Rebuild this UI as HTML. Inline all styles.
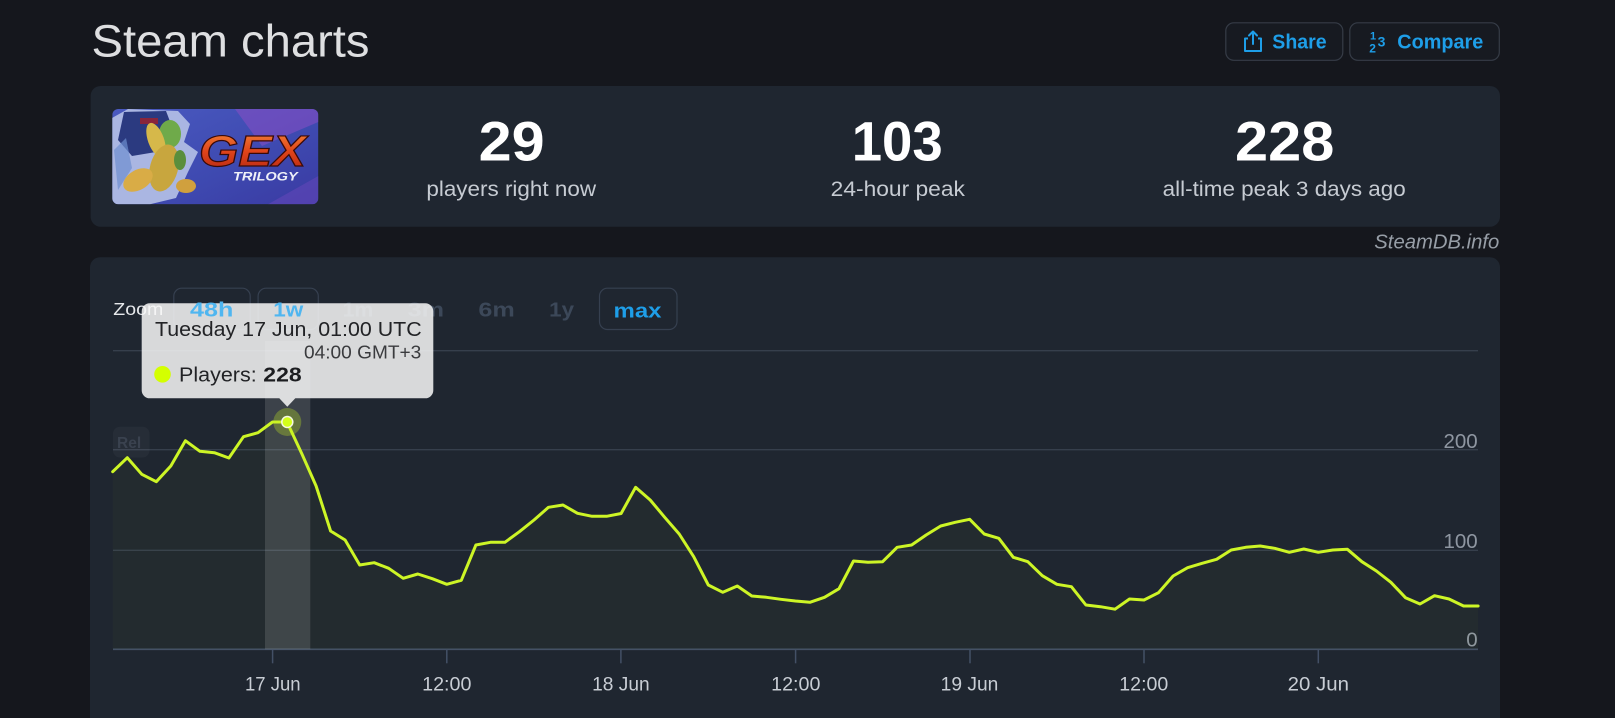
<!DOCTYPE html>
<html>
<head>
<meta charset="utf-8">
<style>
  html,body{margin:0;padding:0;background:#15171d;}
  body{width:1615px;height:718px;overflow:hidden;font-family:"Liberation Sans",sans-serif;}
  svg{display:block;}
  text{font-family:"Liberation Sans",sans-serif;}
</style>
</head>
<body>
<svg width="1615" height="718" viewBox="0 0 1615 718" xmlns="http://www.w3.org/2000/svg">
  <defs>
    <clipPath id="imgclip"><rect x="112.3" y="109" width="206" height="95.3" rx="6"/></clipPath>
    <linearGradient id="imgbg" x1="0" y1="0" x2="1" y2="1">
      <stop offset="0" stop-color="#4a5ac0"/>
      <stop offset="0.6" stop-color="#3e49b0"/>
      <stop offset="1" stop-color="#3a3aa2"/>
    </linearGradient>
    <linearGradient id="gexgrad" x1="0" y1="0" x2="0" y2="1">
      <stop offset="0" stop-color="#f58a3a"/>
      <stop offset="0.5" stop-color="#e0441a"/>
      <stop offset="1" stop-color="#b02412"/>
    </linearGradient>
  </defs>

  <rect x="0" y="0" width="1615" height="718" fill="#15171d"/>

  <text x="91.5" y="56.7" font-size="45" fill="#dedfe1" textLength="278" lengthAdjust="spacingAndGlyphs">Steam charts</text>

  <!-- Share button -->
  <rect x="1225.8" y="22.8" width="117" height="37.5" rx="8" fill="#171a21" stroke="#363c47" stroke-width="1.2"/>
  <path d="M1248,38.5 h-3 v12.5 h16 v-12.5 h-3" fill="none" stroke="#1e9ee8" stroke-width="2" stroke-linejoin="round"/>
  <path d="M1253,44 V31.5 M1249,35.5 l4,-4 l4,4" fill="none" stroke="#1e9ee8" stroke-width="2" stroke-linecap="round" stroke-linejoin="round"/>
  <text x="1272.3" y="48.7" font-size="20" font-weight="700" fill="#1e9ee8" textLength="54.3" lengthAdjust="spacingAndGlyphs">Share</text>

  <!-- Compare button -->
  <rect x="1349.8" y="22.8" width="149.5" height="37.5" rx="8" fill="#171a21" stroke="#363c47" stroke-width="1.2"/>
  <text x="1370" y="39.5" font-size="11" font-weight="700" fill="#1e9ee8">1</text>
  <text x="1369.2" y="52.5" font-size="12" font-weight="700" fill="#1e9ee8">2</text>
  <text x="1377.6" y="46.6" font-size="14" font-weight="700" fill="#1e9ee8">3</text>
  <text x="1397.3" y="48.7" font-size="20" font-weight="700" fill="#1e9ee8" textLength="86" lengthAdjust="spacingAndGlyphs">Compare</text>

  <!-- Stats card -->
  <rect x="90.6" y="86" width="1409.4" height="140.7" rx="10" fill="#1f2630"/>

  <!-- Game image -->
  <g clip-path="url(#imgclip)">
    <rect x="112.3" y="109" width="206" height="95.3" fill="url(#imgbg)"/>
    <polygon points="235,109 318.3,109 318.3,122 262,146" fill="#8a4fc4" opacity="0.55"/>
    <polygon points="268,204.3 318.3,176 318.3,204.3" fill="#6a48bc" opacity="0.5"/>
    <polygon points="112,118 128,109 178,111 190,124 184,142 198,152 188,172 176,198 150,204.3 112,204.3" fill="#aab6e2"/>
    <polygon points="124,112 166,111 174,132 168,150 132,156 118,140" fill="#2b3a80"/>
    <rect x="140" y="118" width="18" height="6" fill="#a0222a" opacity="0.8"/>
    <polygon points="114,150 126,138 132,168 118,190" fill="#6d8fd0" opacity="0.7"/>
    <ellipse cx="170" cy="134" rx="11" ry="14" fill="#6faa4a"/>
    <ellipse cx="156" cy="140" rx="8" ry="18" fill="#d6b84a" transform="rotate(-20 156 140)"/>
    <ellipse cx="164" cy="168" rx="14" ry="24" fill="#c8a63e" transform="rotate(15 164 168)"/>
    <ellipse cx="138" cy="180" rx="16" ry="10" fill="#d9ac46" transform="rotate(-30 138 180)"/>
    <ellipse cx="186" cy="186" rx="10" ry="7" fill="#d0a03e"/>
    <ellipse cx="180" cy="160" rx="6" ry="10" fill="#5a8e3c"/>
    <text x="199" y="166" font-family="Liberation Serif, serif" font-size="44" font-weight="700" font-style="italic" fill="url(#gexgrad)" stroke="#3a0a08" stroke-width="1.2" textLength="107" lengthAdjust="spacingAndGlyphs">GEX</text>
    <text x="233" y="180.5" font-size="12" font-weight="700" font-style="italic" fill="#eef0f8" textLength="64.7" lengthAdjust="spacingAndGlyphs">TRILOGY</text>
  </g>

  <!-- Stats -->
  <text x="511.6" y="160.3" font-size="56" font-weight="700" fill="#ffffff" text-anchor="middle" textLength="66" lengthAdjust="spacingAndGlyphs">29</text>
  <text x="511.2" y="196" font-size="21" fill="#c6cbd2" text-anchor="middle" textLength="169.7" lengthAdjust="spacingAndGlyphs">players right now</text>

  <text x="897.2" y="160.5" font-size="56" font-weight="700" fill="#ffffff" text-anchor="middle" textLength="91" lengthAdjust="spacingAndGlyphs">103</text>
  <text x="897.8" y="196" font-size="21" fill="#c6cbd2" text-anchor="middle" textLength="134.3" lengthAdjust="spacingAndGlyphs">24-hour peak</text>

  <text x="1284.7" y="160.5" font-size="56" font-weight="700" fill="#ffffff" text-anchor="middle" textLength="99.3" lengthAdjust="spacingAndGlyphs">228</text>
  <text x="1284.2" y="196" font-size="21" fill="#c6cbd2" text-anchor="middle" textLength="243" lengthAdjust="spacingAndGlyphs">all-time peak 3 days ago</text>

  <text x="1499.3" y="248.3" font-size="20" font-style="italic" fill="#979ea7" text-anchor="end" textLength="125" lengthAdjust="spacingAndGlyphs">SteamDB.info</text>

  <!-- Chart card -->
  <rect x="90" y="257.3" width="1410" height="480" rx="10" fill="#1f2630"/>

  <!-- Zoom row -->
  <text x="113.3" y="315" font-size="17.5" fill="#e6e8eb" textLength="50" lengthAdjust="spacingAndGlyphs">Zoom</text>
  <rect x="173.8" y="288.2" width="76.4" height="41.3" rx="8" fill="none" stroke="#364050" stroke-width="1.2"/>
  <rect x="258.1" y="288.2" width="60.2" height="41.3" rx="8" fill="none" stroke="#364050" stroke-width="1.2"/>
  <rect x="599.5" y="288.2" width="77.5" height="41.3" rx="8" fill="none" stroke="#364050" stroke-width="1.2"/>
  <text x="342.6" y="316.5" font-size="20" font-weight="700" fill="#3c4859" textLength="30.6" lengthAdjust="spacingAndGlyphs">1m</text>
  <text x="407.6" y="316.5" font-size="20" font-weight="700" fill="#3c4859" textLength="36.4" lengthAdjust="spacingAndGlyphs">3m</text>
  <text x="478.4" y="316.5" font-size="20" font-weight="700" fill="#3c4859" textLength="36.4" lengthAdjust="spacingAndGlyphs">6m</text>
  <text x="549.2" y="316.5" font-size="20" font-weight="700" fill="#3c4859" textLength="24.9" lengthAdjust="spacingAndGlyphs">1y</text>
  <text x="613.5" y="317.5" font-size="20" font-weight="700" fill="#1e9ee8" textLength="48" lengthAdjust="spacingAndGlyphs">max</text>

  <!-- Gridlines -->
  <g stroke="#363f4c" stroke-width="1.4">
    <line x1="113" y1="350.7" x2="1478" y2="350.7"/>
    <line x1="113" y1="449.7" x2="1478" y2="449.7"/>
    <line x1="113" y1="550.3" x2="1478" y2="550.3"/>
  </g>
  <line x1="113" y1="649.3" x2="1478" y2="649.3" stroke="#435066" stroke-width="1.6"/>

  <g font-size="20.5" fill="#8e96a1" text-anchor="end">
    <text x="1477.7" y="447.8">200</text>
    <text x="1477.7" y="547.8">100</text>
    <text x="1477.7" y="646.7">0</text>
  </g>

  <g stroke="#435066" stroke-width="1.5">
    <line x1="272.6" y1="649.3" x2="272.6" y2="663.3"/>
    <line x1="446.8" y1="649.3" x2="446.8" y2="663.3"/>
    <line x1="620.9" y1="649.3" x2="620.9" y2="663.3"/>
    <line x1="795.6" y1="649.3" x2="795.6" y2="663.3"/>
    <line x1="970" y1="649.3" x2="970" y2="663.3"/>
    <line x1="1144" y1="649.3" x2="1144" y2="663.3"/>
    <line x1="1318.3" y1="649.3" x2="1318.3" y2="663.3"/>
  </g>
  <g font-size="19.5" fill="#c8cdd4" text-anchor="middle">
    <text x="272.8" y="690.5" textLength="55.7" lengthAdjust="spacingAndGlyphs">17 Jun</text>
    <text x="446.8" y="690.5" textLength="49.3" lengthAdjust="spacingAndGlyphs">12:00</text>
    <text x="620.9" y="690.5" textLength="57.5" lengthAdjust="spacingAndGlyphs">18 Jun</text>
    <text x="795.8" y="690.5" textLength="49.3" lengthAdjust="spacingAndGlyphs">12:00</text>
    <text x="969.5" y="690.5" textLength="57.7" lengthAdjust="spacingAndGlyphs">19 Jun</text>
    <text x="1143.8" y="690.5" textLength="49" lengthAdjust="spacingAndGlyphs">12:00</text>
    <text x="1318.3" y="690.5" textLength="61.3" lengthAdjust="spacingAndGlyphs">20 Jun</text>
  </g>

  <rect x="113" y="426.7" width="36.5" height="30.8" rx="7" fill="#ffffff" fill-opacity="0.035"/>
  <text x="117" y="448" font-size="15.5" font-weight="700" fill="#3a424f">Rel</text>

  <polygon fill="#c8f020" fill-opacity="0.022" points="112.7,471.7 127.3,457.7 141.8,474.3 156.3,481.7 170.8,466 185.4,440.7 199.9,451.3 214.4,452.7 228.9,458 243.5,436.7 258,432.7 272.5,422 287,422 301.6,453.3 316.1,486 330.6,531 345.1,540 359.7,565 374.2,562.7 388.7,568.3 403.2,578.3 417.8,574 432.3,578.7 446.8,584.3 461.3,580.3 475.9,545 490.4,542.3 504.9,542.3 519.4,531.7 534,520 548.5,507.3 563,505 577.5,513.3 592.1,516.3 606.6,516.3 621.1,513.5 635.6,487.3 650.2,500 664.7,517.3 679.2,534 693.7,556.7 708.3,585 722.8,592.3 737.3,586 751.8,596 766.4,597.3 780.9,599.3 795.4,601 809.9,602.3 824.5,597.3 839,588.7 853.5,561 868,562.3 882.6,561.7 897.1,547.3 911.6,545 926.1,535 940.7,526 955.2,522.3 969.7,519.3 984.2,534 998.8,538.3 1013.3,557.3 1027.8,561.7 1042.3,575.7 1056.9,584.3 1071.4,586.7 1085.9,605 1100.4,606.7 1115,609.2 1129.5,599 1144,600 1158.5,592.7 1173.1,576 1187.6,567.7 1202.1,563.3 1216.6,559.3 1231.2,550 1245.7,547.3 1260.2,546 1274.7,548.3 1289.3,552.3 1303.8,549 1318.3,552.3 1332.8,550 1347.4,549.3 1361.9,561.7 1376.4,571 1390.9,582.3 1405.5,597.7 1420,604 1434.5,595.7 1449,599 1463.6,606 1478.1,606 1478.1,649.3 112.7,649.3"/>

  <rect x="265" y="341" width="45.3" height="308.3" fill="#ffffff" fill-opacity="0.13"/>

  <polyline fill="none" stroke="#cdf526" stroke-width="3" stroke-linejoin="round" stroke-linecap="round" points="112.7,471.7 127.3,457.7 141.8,474.3 156.3,481.7 170.8,466 185.4,440.7 199.9,451.3 214.4,452.7 228.9,458 243.5,436.7 258,432.7 272.5,422 287,422 301.6,453.3 316.1,486 330.6,531 345.1,540 359.7,565 374.2,562.7 388.7,568.3 403.2,578.3 417.8,574 432.3,578.7 446.8,584.3 461.3,580.3 475.9,545 490.4,542.3 504.9,542.3 519.4,531.7 534,520 548.5,507.3 563,505 577.5,513.3 592.1,516.3 606.6,516.3 621.1,513.5 635.6,487.3 650.2,500 664.7,517.3 679.2,534 693.7,556.7 708.3,585 722.8,592.3 737.3,586 751.8,596 766.4,597.3 780.9,599.3 795.4,601 809.9,602.3 824.5,597.3 839,588.7 853.5,561 868,562.3 882.6,561.7 897.1,547.3 911.6,545 926.1,535 940.7,526 955.2,522.3 969.7,519.3 984.2,534 998.8,538.3 1013.3,557.3 1027.8,561.7 1042.3,575.7 1056.9,584.3 1071.4,586.7 1085.9,605 1100.4,606.7 1115,609.2 1129.5,599 1144,600 1158.5,592.7 1173.1,576 1187.6,567.7 1202.1,563.3 1216.6,559.3 1231.2,550 1245.7,547.3 1260.2,546 1274.7,548.3 1289.3,552.3 1303.8,549 1318.3,552.3 1332.8,550 1347.4,549.3 1361.9,561.7 1376.4,571 1390.9,582.3 1405.5,597.7 1420,604 1434.5,595.7 1449,599 1463.6,606 1478.1,606"/>

  <circle cx="287.3" cy="422" r="14" fill="#c8f020" fill-opacity="0.3"/>
  <circle cx="287.3" cy="422" r="5.5" fill="#d4ff1a" stroke="#f4f8e0" stroke-width="1.5"/>

  <path d="M149.7,303.3 H425.3 A8,8 0 0 1 433.3,311.3 V390.3 A8,8 0 0 1 425.3,398.3 H295.3 L287.3,406.7 L279.3,398.3 H149.7 A8,8 0 0 1 141.7,390.3 V311.3 A8,8 0 0 1 149.7,303.3 Z" fill="#f7f7f7" fill-opacity="0.86"/>
  <text x="155" y="336" font-size="20" fill="#222326" textLength="266.7" lengthAdjust="spacingAndGlyphs">Tuesday 17 Jun, 01:00 UTC</text>
  <text x="421.3" y="358.3" font-size="18" fill="#3a3b3e" text-anchor="end" textLength="117.3" lengthAdjust="spacingAndGlyphs">04:00 GMT+3</text>
  <circle cx="162.5" cy="374.3" r="8.3" fill="#d4ff00"/>
  <text x="179" y="381.7" font-size="20.5" fill="#222326" textLength="77.7" lengthAdjust="spacingAndGlyphs">Players:</text>
  <text x="263.3" y="381.7" font-size="20.5" font-weight="700" fill="#1c1d20" textLength="38.4" lengthAdjust="spacingAndGlyphs">228</text>

  <text x="190" y="316.5" font-size="20" font-weight="700" fill="#4fb6f0" textLength="43.3" lengthAdjust="spacingAndGlyphs">48h</text>
  <text x="273.3" y="316.5" font-size="20" font-weight="700" fill="#4fb6f0" textLength="30" lengthAdjust="spacingAndGlyphs">1w</text>
</svg>
</body>
</html>
